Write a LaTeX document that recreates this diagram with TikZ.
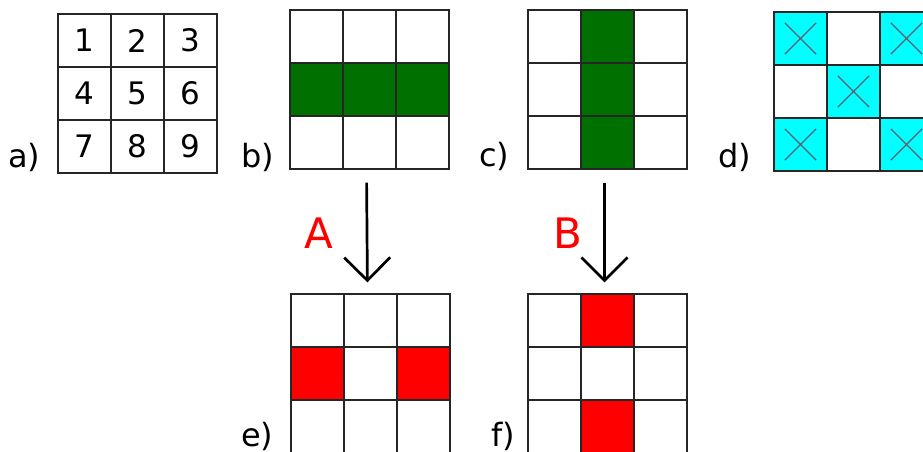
\documentclass[tikz,border=0pt]{standalone}
\usepackage{fontspec}
\setmainfont{DejaVu Sans}
\usepackage{xcolor}
\definecolor{leafgreen}{RGB}{0,112,0}
\definecolor{aqua}{RGB}{0,255,255}
\definecolor{crossgray}{RGB}{95,95,115}
\definecolor{hotred}{RGB}{255,0,0}
\usepackage{tikz}
\usetikzlibrary{arrows.meta,shapes.misc,backgrounds}

\tikzset{
  cell/.style={draw=black!85, line width=1.3pt, minimum size=53pt, inner sep=0pt},
  tag/.style={anchor=base west, inner sep=0pt, font=\fontsize{32}{38}\selectfont},
  letter/.style={anchor=base, inner sep=0pt, text=hotred, font=\fontsize{42}{48}\selectfont},
  xmark/.style={cross out, draw=crossgray, line width=1.2pt, minimum size=30pt, inner sep=0pt},
  push/.style={-{Straight Barb[length=23pt,width=46pt]}, line width=2.7pt},
}
% 3x3 grid of cells #1-row-col, top left corner at (#2,#3)
\newcommand{\cellgrid}[3]{%
  \foreach \r in {1,2,3}
    \foreach \c in {1,2,3}
      \node[cell] (#1-\r-\c) at ({#2+53*\c-26.5},{#3+53*\r-26.5}) {};}

\begin{document}
\begin{tikzpicture}[x=1pt,y=-1pt]
  \useasboundingbox (0,0) rectangle (923,452);

  % a) numbered cells
  \foreach \r in {1,2,3}
    \foreach \c in {1,2,3}{
      \pgfmathtruncatemacro\n{3*(\r-1)+\c}
      \node[cell, font=\fontsize{31}{36}\selectfont] (a-\r-\c) at ({58+53*\c-26.5},{14+53*\r-26.5}) {\n};
    }

  \cellgrid{b}{290}{10}
  \cellgrid{c}{528}{10}
  \cellgrid{d}{774}{12}
  \cellgrid{e}{291}{294}
  \cellgrid{f}{528}{294}

  \begin{scope}[on background layer]
    \fill[leafgreen] (b-2-1.north west) rectangle (b-2-3.south east);
    \fill[leafgreen] (c-1-2.north west) rectangle (c-3-2.south east);
    \foreach \k in {1-1,1-3,2-2,3-1,3-3}
      \fill[aqua] (d-\k.north west) rectangle (d-\k.south east);
    \foreach \k in {e-2-1,e-2-3,f-1-2,f-3-2}
      \fill[hotred] (\k.north west) rectangle (\k.south east);
  \end{scope}

  \foreach \k in {1-1,1-3,2-2,3-1,3-3}
    \node[xmark] (x-\k) at (d-\k) {};

  % labels
  \node[tag] (lab-a) at (8,167) {a)};
  \node[tag] (lab-b) at (241,167) {b)};
  \node[tag] (lab-c) at (479,166) {c)};
  \node[tag] (lab-d) at (718,167) {d)};
  \node[tag] (lab-e) at (241,446) {e)};
  \node[tag] (lab-f) at (491,446) {f)};

  % transitions
  \draw[push, shorten <=13pt, shorten >=11pt] ([xshift=-3pt]b-3-2.south) -- ([xshift=-3pt]e-1-2.north);
  \draw[push, shorten <=13pt, shorten >=11pt] ([xshift=-3pt]c-3-2.south) -- ([xshift=-3pt]f-1-2.north);
  \node[letter] (op-A) at (319,248) {A};
  \node[letter] (op-B) at (568,248) {B};
\end{tikzpicture}
\end{document}
